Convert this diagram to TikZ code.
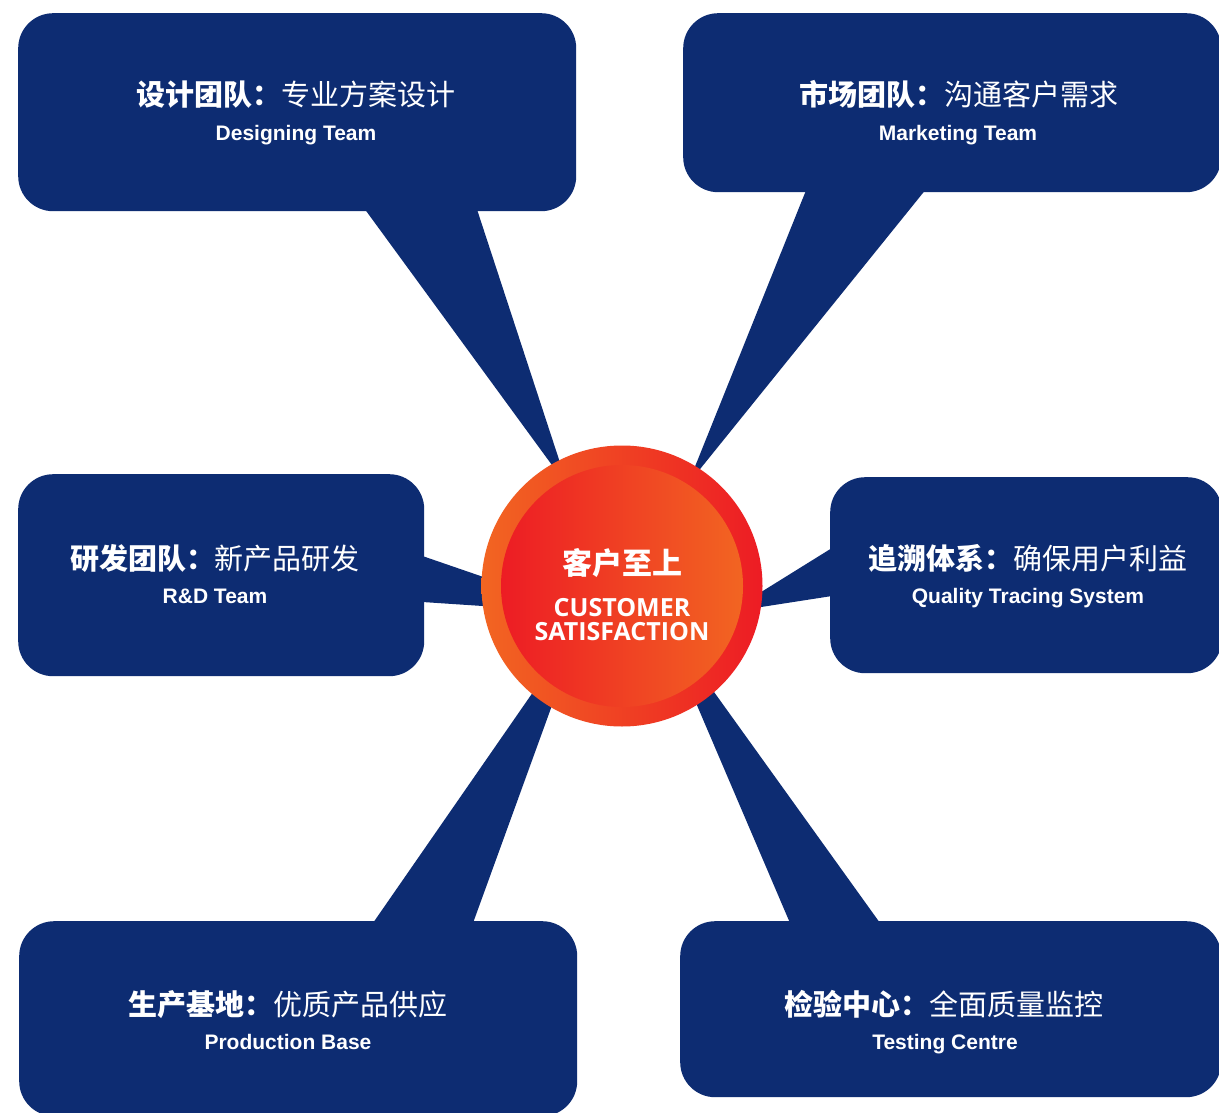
\documentclass[tikz,border=0pt]{standalone}
\usepackage{fontspec}
\setmainfont{Liberation Sans}
\newfontfamily\cjk{Noto Sans CJK SC}
\newfontfamily\hubfont{Open Sans}
\usepackage{tikz}

\definecolor{teamblue}{RGB}{13,44,114}
\definecolor{sunorange}{RGB}{242,101,34}
\definecolor{sunred}{RGB}{237,28,36}

\tikzset{
  team/.style n args={2}{fill=teamblue, rounded corners=35pt, inner sep=0pt,
    minimum width=#1pt, minimum height=#2pt, anchor=north west},
  tail/.style={fill=teamblue},
  cn/.style={text=white, inner sep=0pt, font=\cjk\fontsize{29}{29}\selectfont,
    text height=25.5pt, text depth=3.5pt},
  en/.style={text=white, inner sep=0pt, font=\bfseries\fontsize{21}{21}\selectfont,
    text height=15pt, text depth=0pt},
}

\begin{document}
\begin{tikzpicture}[x=1pt, y=-1pt]
  \useasboundingbox (0,0) rectangle (1219,1113);
  \clip (0,0) rectangle (1219,1113);
  \fill[white] (0,0) rectangle (1219,1113);

  % boxes
  \node[team={558}{198}] (design) at (18,13) {};
  \node[team={538}{179}] (market) at (683,13) {};
  \node[team={406}{202}] (rnd) at (18,474) {};
  \node[team={392}{196}] (trace) at (830,477) {};
  \node[team={558}{195}] (prod) at (19,921) {};
  \node[team={541}{176}] (test) at (680,921) {};

  % tips of the tails, hidden under the hub
  \coordinate (designtip) at (568,487);
  \coordinate (markettip) at (688,484);
  \coordinate (rndtip) at (588,613);
  \coordinate (tracetip) at (729,612);
  \coordinate (prodtip) at (583,620);
  \coordinate (testtip) at (658,614);

  \fill[tail] ([xshift=347pt, yshift=2pt]design.south west) -- ([xshift=459pt, yshift=2pt]design.south west) -- (designtip) -- cycle;
  \fill[tail] ([xshift=123pt, yshift=2pt]market.south west) -- ([xshift=242pt, yshift=2pt]market.south west) -- (markettip) -- cycle;
  \fill[tail] ([xshift=-2pt, yshift=-82pt]rnd.north east) -- ([xshift=-2pt, yshift=-128pt]rnd.north east) -- (rndtip) -- cycle;
  \fill[tail] ([xshift=2pt, yshift=-71pt]trace.north west) -- ([xshift=2pt, yshift=-119pt]trace.north west) -- (tracetip) -- cycle;
  \fill[tail] ([xshift=354pt, yshift=-2pt]prod.north west) -- ([xshift=454pt, yshift=-2pt]prod.north west) -- (prodtip) -- cycle;
  \fill[tail] ([xshift=110pt, yshift=-2pt]test.north west) -- ([xshift=200pt, yshift=-2pt]test.north west) -- (testtip) -- cycle;

  % hub
  \node[circle, inner sep=0pt, minimum size=281pt, left color=sunorange, right color=sunred] (hub) at (622,586) {};
  \node[circle, inner sep=0pt, minimum size=242pt, left color=sunred, right color=sunorange] (core) at (hub.center) {};
  \node[text=white, inner sep=0pt, font=\cjk\bfseries\fontsize{30}{30}\selectfont] (hubcn) at (622,563) {客户至上};
  \node[text=white, inner sep=0pt, align=center, font=\hubfont\bfseries\fontsize{25}{24}\selectfont] (huben) at (622,620) {CUSTOMER\\SATISFACTION};

  % labels
  \node[cn] (designcn) at (296,95) {{\bfseries 设计团队：}专业方案设计};
  \node[en] (designen) at (296,133) {Designing Team};
  \node[cn] (marketcn) at (959,95) {{\bfseries 市场团队：}沟通客户需求};
  \node[en] (marketen) at (958,133) {Marketing Team};
  \node[cn] (rndcn) at (215,558) {{\bfseries 研发团队：}新产品研发};
  \node[en] (rnden) at (215,596) {R\&D Team};
  \node[cn] (tracecn) at (1028,558) {{\bfseries 追溯体系：}确保用户利益};
  \node[en] (traceen) at (1028,596) {Quality Tracing System};
  \node[cn] (prodcn) at (288,1004) {{\bfseries 生产基地：}优质产品供应};
  \node[en] (proden) at (288,1042) {Production Base};
  \node[cn] (testcn) at (944,1004) {{\bfseries 检验中心：}全面质量监控};
  \node[en] (testen) at (945,1042) {Testing Centre};
\end{tikzpicture}
\end{document}
